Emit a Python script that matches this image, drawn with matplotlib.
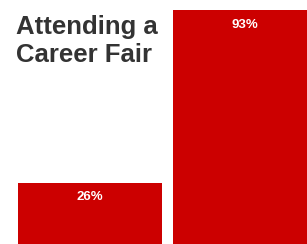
import matplotlib
matplotlib.use("Agg")
import matplotlib.pyplot as plt

categories = ["Before", "After"]
values = [26, 93]
labels = ["26%", "93%"]
title = "Attending a\nCareer Fair"

W, H = 307, 244
fig = plt.figure(figsize=(W / 100, H / 100), dpi=100)
ax = fig.add_axes([0, 0, 1, 1])
x = [0, 1]
ax.bar(x, values, width=0.929, color="#CC0000", edgecolor="none")
ax.set_xlim(-0.581, 1.4)
ax.set_ylim(2.33, 96.9)
ax.axis("off")

for xi, v, lab in zip(x, values, labels):
    ax.annotate(lab, (xi, v), xytext=(0, -14.5), textcoords="offset pixels",
                ha="center", va="center", color="white", fontsize=9.5,
                fontweight="bold", family=["Liberation Sans", "DejaVu Sans"])

fig.text(16 / W, 1 - 62 / H, title, ha="left", va="baseline",
         fontsize=18.5, fontweight="bold", color="#333333",
         family=["Liberation Sans", "DejaVu Sans"], linespacing=1.2)

fig.savefig("out.png", dpi=100)
